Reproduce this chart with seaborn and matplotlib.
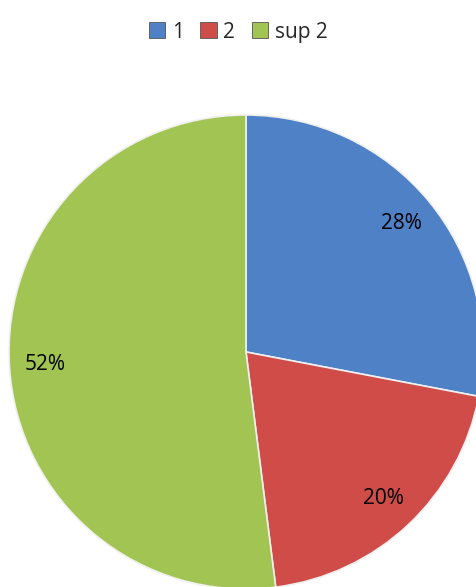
import matplotlib
matplotlib.use('Agg')
import matplotlib.pyplot as plt
import seaborn as sns
from matplotlib.patches import Patch

categories = ['1', '2', 'sup 2']
shares = [28, 20, 52]
colors = sns.color_palette(['#4F81C7', '#CF4C48', '#A2C452'])

sns.set_style('white')
plt.rcParams['font.family'] = ['Open Sans', 'DejaVu Sans']

fig = plt.figure(figsize=(4.76, 5.87), dpi=100)
ax = fig.add_axes([0, 0, 1, 1])
ax.pie(shares, colors=colors, startangle=90, counterclock=False,
       autopct='%d%%', pctdistance=0.85, radius=237, center=(246, 235),
       wedgeprops=dict(edgecolor='#f0f0f0', linewidth=1.2),
       textprops=dict(fontsize=15, color='black'), frame=True)
ax.set_xlim(0, 476)
ax.set_ylim(0, 587)
ax.set_aspect('equal')
ax.axis('off')

handles = [Patch(facecolor=c, edgecolor='#555555', linewidth=0.6) for c in colors]
fig.legend(handles, categories, loc='upper center', bbox_to_anchor=(0.5, 0.995),
           ncol=3, frameon=False, fontsize=15, handlelength=0.8, handleheight=0.8,
           handletextpad=0.3, columnspacing=0.8)

fig.savefig('out.png', dpi=100)
